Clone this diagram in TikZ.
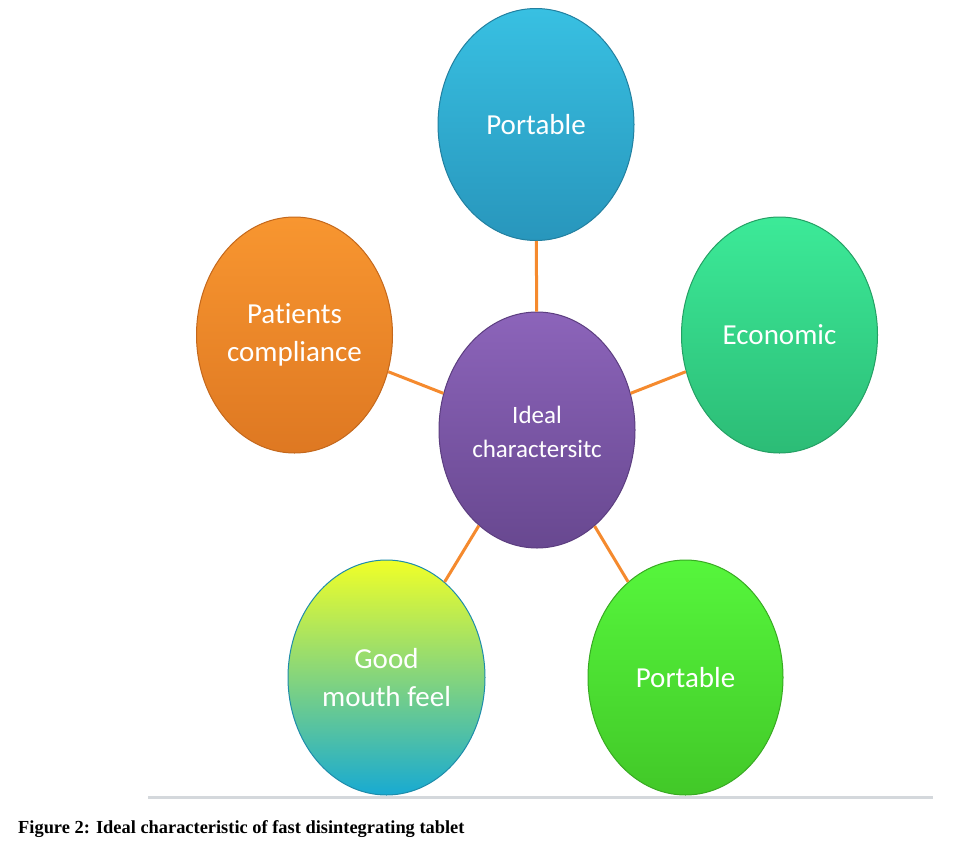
\documentclass[tikz,border=0pt]{standalone}
\usepackage{fontspec}
\setmainfont{Liberation Serif}
\newfontfamily\bubblefont[Ligatures=NoCommon]{Carlito}
\usetikzlibrary{shapes.geometric}
\definecolor{linkorange}{HTML}{F58A2E}
\definecolor{ruleGray}{HTML}{D4D8DC}
\tikzset{
  bubble/.style={ellipse, inner sep=0pt, minimum width=196pt, minimum height=236pt,
    text=white, align=center, font=\bubblefont\fontsize{29}{38}\selectfont, line width=1pt},
  link/.style={draw=linkorange, line width=3pt}
}
\begin{document}
\begin{tikzpicture}[x=1pt,y=-1pt]
\useasboundingbox (0,0) rectangle (975,844);
\fill[white] (0,0) rectangle (975,844);
% nodes
\node[bubble, minimum height=232pt, top color={rgb,255:red,56;green,192;blue,226}, bottom color={rgb,255:red,40;green,150;blue,188}, draw={rgb,255:red,34;green,128;blue,160}] (top) at (536,124.5) {Portable};
\node[bubble, top color={rgb,255:red,140;green,100;blue,186}, bottom color={rgb,255:red,104;green,72;blue,144}, draw={rgb,255:red,92;green,62;blue,128}, font=\bubblefont\fontsize{25}{34}\selectfont] (center) at (537,430) {};
\node[text=white, align=center, font=\bubblefont\fontsize{25}{34}\selectfont, inner sep=0pt] (centerlabel) at (537,432) {Ideal\\charactersitc};
\node[bubble, top color={rgb,255:red,248;green,150;blue,48}, bottom color={rgb,255:red,222;green,120;blue,34}, draw={rgb,255:red,196;green,104;blue,28}] (left) at (294.5,335) {Patients\\compliance};
\node[bubble, top color={rgb,255:red,60;green,234;blue,152}, bottom color={rgb,255:red,44;green,188;blue,118}, draw={rgb,255:red,36;green,160;blue,100}] (right) at (779.5,335) {Economic};
\node[bubble, minimum width=197pt, minimum height=235pt, top color={rgb,255:red,240;green,255;blue,40}, middle color={rgb,255:red,150;green,226;blue,110}, bottom color={rgb,255:red,24;green,170;blue,210}, draw={rgb,255:red,30;green,140;blue,170}] (bl) at (386.5,677.5) {Good\\mouth feel};
\node[bubble, minimum width=195pt, minimum height=235pt, top color={rgb,255:red,86;green,246;blue,60}, bottom color={rgb,255:red,66;green,200;blue,40}, draw={rgb,255:red,56;green,170;blue,34}] (br) at (685.5,677.5) {Portable};
% connectors
\draw[link] (center) -- (top);
\draw[link] (center) -- (left);
\draw[link] (center) -- (right);
\draw[link] (center) -- (bl);
\draw[link] (center) -- (br);
% rule and caption
\coordinate (ruleL) at (148,797);
\coordinate (ruleR) at (933,797);
\draw[ruleGray, line width=3pt] (ruleL) -- (ruleR);
\node[anchor=base west, inner sep=0pt, font=\bfseries\fontsize{18.4}{21}\selectfont] (caption) at (18,833) {Figure 2: Ideal characteristic of fast disintegrating tablet};
\end{tikzpicture}
\end{document}
